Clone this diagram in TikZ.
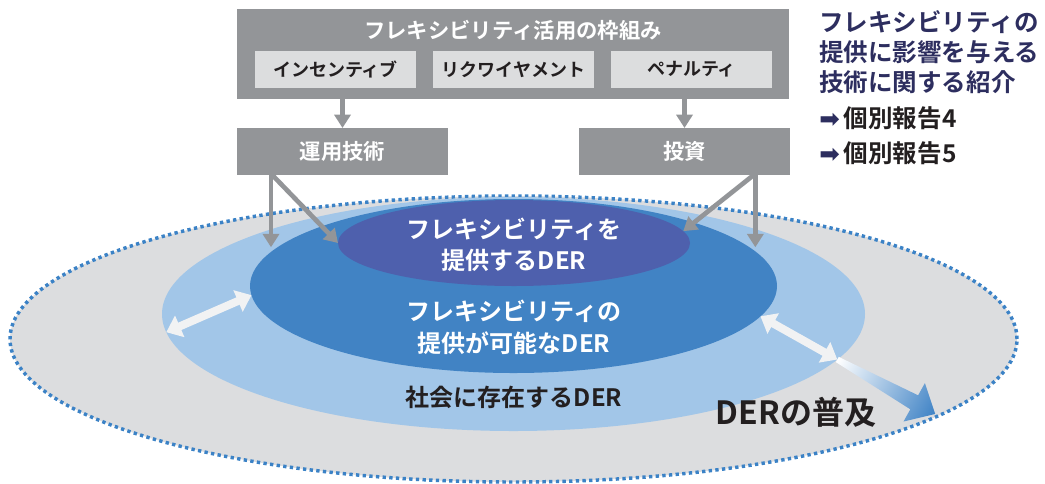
\documentclass[tikz,border=0pt]{standalone}
\usepackage{fontspec}
\setmainfont{Noto Sans CJK JP}[BoldFont={Noto Sans CJK JP Bold}]
\newfontfamily\dv{DejaVu Sans}
\usetikzlibrary{shapes.geometric,arrows.meta}
\definecolor{boxgray}{HTML}{939598}
\definecolor{lightgray}{HTML}{DCDDDE}
\definecolor{outergray}{HTML}{DCDDDF}
\definecolor{lightblue}{HTML}{A2C6E8}
\definecolor{midblue}{HTML}{4183C4}
\definecolor{purpleblue}{HTML}{4E60AD}
\definecolor{dotblue}{HTML}{3B82C6}
\definecolor{darktext}{HTML}{231F20}
\definecolor{navy}{HTML}{2D2E5F}
\definecolor{arrowwhite}{HTML}{F1F2F3}
\definecolor{gradblue}{HTML}{3E82C5}
\begin{document}
\begin{tikzpicture}[x=0.75pt,y=-0.75pt,
  graybox/.style={fill=boxgray, inner sep=0pt, outer sep=0pt},
  subbox/.style={fill=lightgray, inner sep=0pt, outer sep=0pt, minimum width=120.75pt, minimum height=27.75pt, text=darktext, font=\bfseries\fontsize{13.5pt}{16pt}\selectfont},
  oval/.style={ellipse, inner sep=0pt, outer sep=0pt},
  wtext/.style={text=white, font=\bfseries\fontsize{18pt}{22pt}\selectfont, inner sep=0pt},
  dtext/.style={text=darktext, font=\bfseries\fontsize{18pt}{22pt}\selectfont, inner sep=0pt},
  navytext/.style={text=navy, font=\bfseries\fontsize{18.4pt}{22pt}\selectfont, inner sep=0pt, anchor=west},
  boxtext/.style={text=white, font=\bfseries\fontsize{16pt}{19pt}\selectfont, inner sep=0pt},
  grayarrow/.style={draw=boxgray, line width=3.5pt, -{Triangle[width=12pt,length=10pt]}},
  whitearrow/.style={draw=arrowwhite, line width=6pt, {Triangle[width=17pt,length=11pt]}-{Triangle[width=17pt,length=11pt]}}
]
\useasboundingbox (0,0) rectangle (1045,483);

% ellipses
\node[oval, fill=outergray, draw=dotblue, line width=2.6pt, dash pattern=on 2.5pt off 2.5pt,
      minimum width=755.25pt, minimum height=214.5pt] (og) at (513.5,339) {};
\node[oval, fill=lightblue, minimum width=527.25pt, minimum height=175.5pt] (lb) at (513.5,314) {};
\node[oval, fill=midblue, minimum width=395.25pt, minimum height=130.5pt] (mb) at (513.5,286) {};
\node[oval, fill=purpleblue, minimum width=264pt, minimum height=64.5pt] (pp) at (514,243) {};

% ellipse texts
\node[wtext] (t1) at (514,229) {フレキシビリティを};
\node[wtext] (t2) at (514,260) {提供するDER};
\node[wtext] (t3) at (514,311) {フレキシビリティの};
\node[wtext] (t4) at (514,343) {提供が可能なDER};
\node[dtext] (t5) at (514,397) {社会に存在するDER};
\node[dtext, font=\bfseries\fontsize{24pt}{28pt}\selectfont] (t6) at (796,412) {DERの普及};

% top boxes
\node[graybox, minimum width=414pt, minimum height=67.5pt] (frame) at (513,54) {};
\node[boxtext] (title) at (513,30) {フレキシビリティ活用の枠組み};
\node[subbox] (inc) at (335.5,69.5) {インセンティブ};
\node[subbox] (req) at (513.5,69.5) {リクワイヤメント};
\node[subbox] (pen) at (691.5,69.5) {ペナルティ};
\node[graybox, minimum width=158.25pt, minimum height=35.25pt] (unyo) at (342.5,151.5) {};
\node[boxtext] at (unyo) {運用技術};
\node[graybox, minimum width=158.25pt, minimum height=35.25pt] (toshi) at (684.5,151.5) {};
\node[boxtext] at (toshi) {投資};

\draw[grayarrow] (unyo.north |- frame.south) -- (unyo.north);
\draw[grayarrow] (toshi.north |- frame.south) -- (toshi.north);

\coordinate (ua) at ([xshift=25.5pt,yshift=1pt]unyo.south west);
\coordinate (ta) at ([xshift=-26pt,yshift=1pt]toshi.south east);
\draw[grayarrow, shorten >=3.5pt] (ua) -- (ua |- mb.172);
\draw[grayarrow] (ua) -- (pp.west);
\draw[grayarrow, shorten >=3.5pt] (ta) -- (ta |- mb.8);
\draw[grayarrow] (ta) -- (pp.4);

% gradient arrow
\coordinate (gtail) at (lb.-8);
\begin{scope}[transform canvas={shift={(gtail)}, rotate=-29.1}]
\shade[left color=white, right color=gradblue]
  (0,-3) -- (88,-8) -- (88,-22) -- (112,0) -- (88,22) -- (88,8) -- (0,3) -- cycle;
\end{scope}

% white double arrows
\draw[whitearrow] (lb.183.8) -- (mb.182.85);
\draw[whitearrow] (mb.-7.6) -- (gtail);

% right column
\node[navytext] (r1) at (819,22) {フレキシビリティの};
\node[navytext] (r2) at (819,52) {提供に影響を与える};
\node[navytext] (r3) at (819,82) {技術に関する紹介};
\node[navytext, text=darktext] (r4) at (819,118) {{\dv\color{navy}➡}\,個別報告4};
\node[navytext, text=darktext] (r5) at (819,153) {{\dv\color{navy}➡}\,個別報告5};
\end{tikzpicture}
\end{document}
